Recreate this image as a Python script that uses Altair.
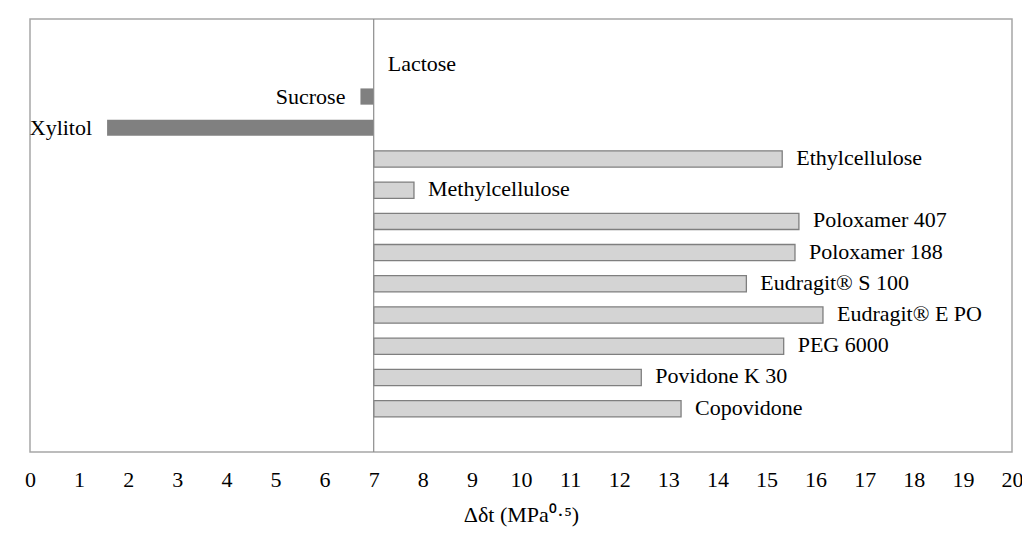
import altair as alt
import pandas as pd

# ---- data ----
names = ["Lactose", "Sucrose", "Xylitol", "Ethylcellulose", "Methylcellulose",
         "Poloxamer 407", "Poloxamer 188", "Eudragit® S 100", "Eudragit® E PO",
         "PEG 6000", "Povidone K 30", "Copovidone"]
values = [7.0, 6.73, 1.57, 15.32, 7.82, 15.66, 15.58, 14.59, 16.15, 15.35, 12.45, 13.26]
groups = ["sugar", "sugar", "sugar", "polymer", "polymer", "polymer", "polymer",
          "polymer", "polymer", "polymer", "polymer", "polymer"]
baseline = [7.0]
x_ticks = list(range(0, 21))

df = pd.DataFrame({"name": names, "value": values, "group": groups})
df["base"] = baseline[0]
df["side"] = ["left" if v < baseline[0] else "right" for v in values]

FONT = "Liberation Serif"
FS = 22

x_scale = alt.Scale(domain=[0, 20], nice=False, zero=False)
y_scale = alt.Scale(domain=names, range=[7, 429], paddingInner=0.48, paddingOuter=1)

x_enc = alt.X("value:Q", scale=x_scale,
              axis=alt.Axis(values=x_ticks, title="Δδt (MPa⁰·⁵)", domain=False,
                            ticks=False, grid=False, labelPadding=17,
                            labelFont=FONT, labelFontSize=FS, labelColor="black",
                            titleFont=FONT, titleFontSize=FS, titleFontWeight="normal",
                            titleColor="black", titlePadding=14, labelFlush=False))
y_enc = alt.Y("name:N", scale=y_scale, axis=None)

base = alt.Chart(df)

sugar_bars = base.transform_filter(alt.datum.group == "sugar").mark_bar(
    color="#808080").encode(x=x_enc, x2="base:Q", y=y_enc)

poly_bars = base.transform_filter(alt.datum.group == "polymer").mark_bar(
    fill="#d4d4d4", stroke="#7f7f7f", strokeWidth=1.3).encode(x=x_enc, x2="base:Q", y=y_enc)

rule = alt.Chart(pd.DataFrame({"x": baseline})).mark_rule(
    color="#8c8c8c", strokeWidth=1.2).encode(x=alt.X("x:Q", scale=x_scale))

left_labels = base.transform_filter(alt.datum.side == "left").mark_text(
    align="right", baseline="middle", dx=-15, font=FONT, fontSize=FS, color="black"
).encode(x=alt.X("value:Q", scale=x_scale), y=y_enc, text="name:N")

right_labels = base.transform_filter(alt.datum.side == "right").mark_text(
    align="left", baseline="middle", dx=14, dy=-1, font=FONT, fontSize=FS, color="black"
).encode(x=alt.X("value:Q", scale=x_scale), y=y_enc, text="name:N")

chart = alt.layer(poly_bars, sugar_bars, rule, left_labels, right_labels).properties(
    width=982, height=433,
    autosize=alt.AutoSizeParams(type="none"),
    padding={"left": 22, "top": 11, "right": 10, "bottom": 82},
    background="white",
).configure_view(stroke="#a6a6a6", strokeWidth=1.5)

chart.save("out.html", embed_options={"renderer": "svg", "actions": False})
